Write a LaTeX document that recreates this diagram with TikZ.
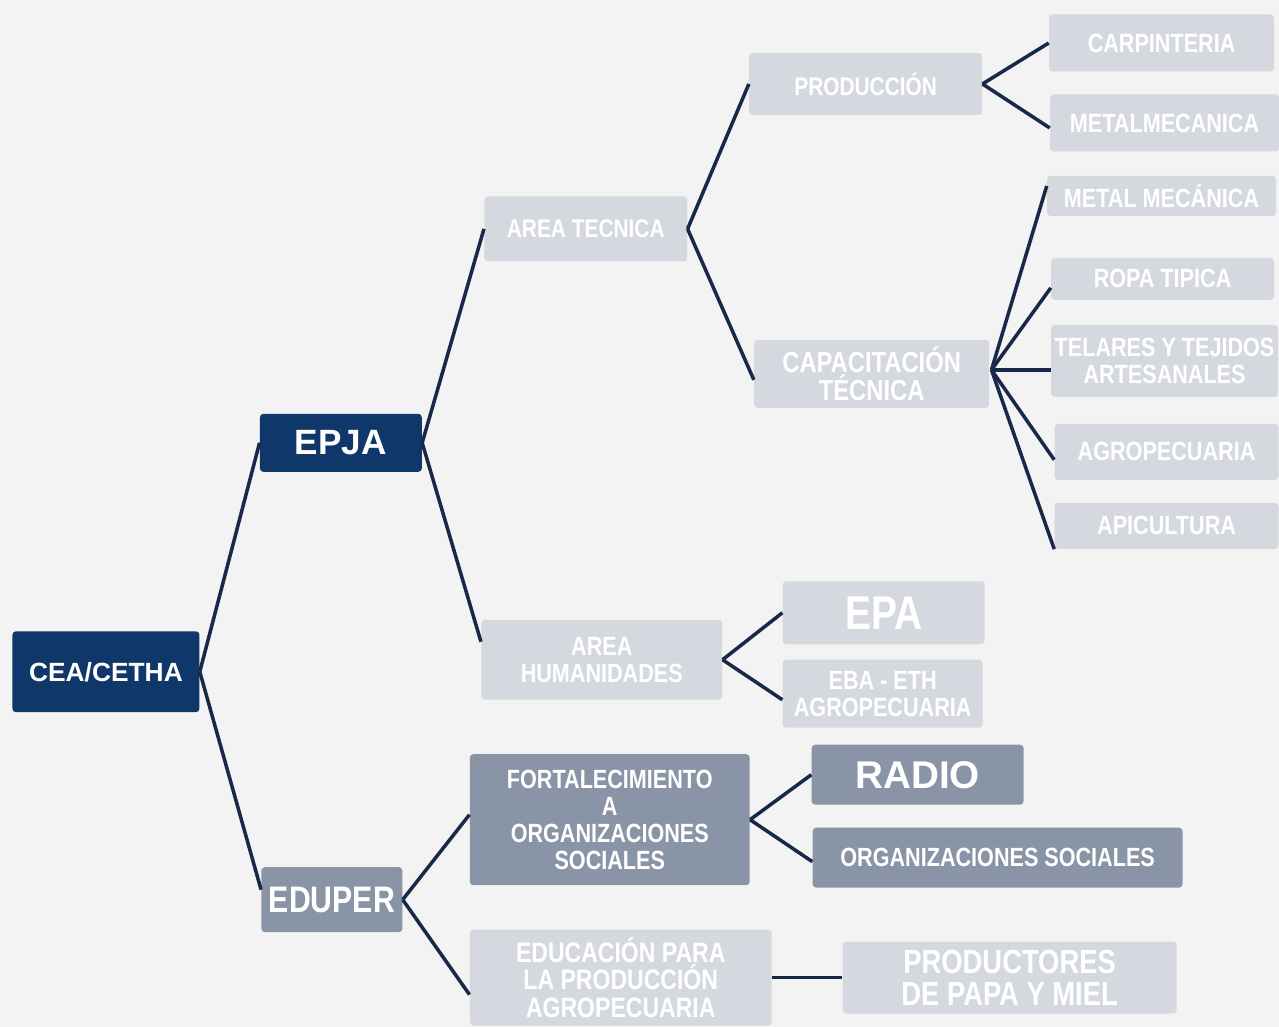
\documentclass[tikz,border=0pt]{standalone}
\usepackage{fontspec}
\setmainfont{Liberation Sans}
\newfontfamily\narrow[FakeStretch=0.82]{Liberation Sans}
\usepackage{tikz}
\usetikzlibrary{positioning}
\usetikzlibrary{calc}
\definecolor{navy}{RGB}{16,55,105}
\definecolor{slate}{RGB}{138,148,167}
\definecolor{pale}{RGB}{213,217,223}
\definecolor{page}{RGB}{243,243,243}
\definecolor{ink}{RGB}{24,40,72}

\begin{document}
\begin{tikzpicture}[x=0.02cm, y=-0.02cm,
                    darknode/.style={rectangle, rounded corners=2pt, fill=navy, text=white, inner sep=0pt, align=center},
                    greynode/.style={rectangle, rounded corners=2pt, fill=slate, text=white, inner sep=0pt, align=center},
                    palenode/.style={rectangle, rounded corners=2pt, fill=pale, text=white, inner sep=0pt, align=center},
                    sz/.style 2 args={minimum width=#1*0.02cm, minimum height=#2*0.02cm},
                    fs/.style 2 args={font=\narrow\bfseries\fontsize{#1}{#2}\selectfont},
                    wide/.style={font=\bfseries\fontsize{#1}{#1}\selectfont},
                    link/.style={draw=ink, line width=2pt, line join=round}
                   ]
\fill[page] (0,0) rectangle (1279,1027);
%Nodes
\node[darknode, sz={187}{81}, wide=15] (cea)  at (106,672)  {CEA/CETHA};
\node[darknode, sz={162}{58}, wide=20] (epja) at (341,443)  {EPJA};
\node[greynode, sz={141}{65}, fs={21}{21}] (eduper) at (332,900) {EDUPER};

\node[palenode, sz={203}{65}, fs={14.5}{16}] (tec) at (586,229) {AREA TECNICA};
\node[palenode, sz={241}{80}, fs={15}{15.4}] (hum) at (602,660) {AREA\\HUMANIDADES};

\node[palenode, sz={233}{62}, fs={14.5}{16}] (prod) at (866,84)  {PRODUCCIÓN};
\node[palenode, sz={235}{68}, fs={16.5}{16}] (cap)  at (872,374) {CAPACITACIÓN\\TÉCNICA};

\node[palenode, sz={225}{57}, fs={15}{16}] (carp)  at (1162,43)  {CARPINTERIA};
\node[palenode, sz={229}{57}, fs={15}{16}] (metal) at (1165,123) {METALMECANICA};
\node[palenode, sz={229}{40}, fs={15}{16}] (mm)    at (1162,196) {METAL MECÁNICA};
\node[palenode, sz={223}{42}, fs={15}{16}] (ropa)  at (1163,279) {ROPA TIPICA};
\node[palenode, sz={227}{72}, fs={15}{15.4}] (tel) at (1165,361) {TELARES Y TEJIDOS\\ARTESANALES};
\node[palenode, sz={224}{56}, fs={15}{16}] (agro)  at (1167,452) {AGROPECUARIA};
\node[palenode, sz={224}{46}, fs={15}{16}] (api)   at (1167,526) {APICULTURA};

\node[palenode, sz={202}{63}, fs={27}{27}] (epa) at (884,613) {EPA};
\node[palenode, sz={200}{68}, fs={15}{15.4}] (eba) at (883,694) {EBA - ETH\\AGROPECUARIA};

\node[greynode, sz={280}{131}, fs={15}{15.4}] (fort) at (610,820) {FORTALECIMIENTO\\A\\ORGANIZACIONES\\SOCIALES};
\node[greynode, sz={212}{60}, wide=22] (radio) at (918,775) {RADIO};
\node[greynode, sz={370}{60}, fs={15}{16}] (org) at (998,858) {ORGANIZACIONES SOCIALES};

\node[palenode, sz={302}{96}, fs={16}{15.6}] (educ) at (621,978) {EDUCACIÓN PARA\\LA PRODUCCIÓN\\AGROPECUARIA};
\node[palenode, sz={334}{72}, fs={19}{18.5}] (pyme) at (1010,978) {PRODUCTORES\\DE PAPA Y MIEL};
% %Lines
\draw[link] (cea.east) -- (epja.west);
\draw[link] (cea.east) -- ($(eduper.west)+(0,-10)$);

\draw[link] (epja.east) -- (tec.west);
\draw[link] (epja.east) -- ($(hum.west)+(0,-18)$);

\draw[link] (tec.east) -- (prod.west);
\draw[link] (tec.east) -- ($(cap.west)+(0,6)$);

\draw[link] (prod.east) -- (carp.west);
\draw[link] (prod.east) -- ($(metal.west)+(0,5)$);

\draw[link] ($(cap.east)+(2,-4)$) -- ($(mm.west)+(0,-10)$);
\draw[link] ($(cap.east)+(2,-4)$) -- ($(ropa.west)+(0,9)$);
\draw[link] ($(cap.east)+(2,-4)$) -- ($(tel.west)+(0,9)$);
\draw[link] ($(cap.east)+(2,-4)$) -- ($(agro.west)+(0,8)$);
\draw[link] ($(cap.east)+(2,-4)$) -- (api.south west);

\draw[link] (hum.east) -- (epa.west);
\draw[link] (hum.east) -- ($(eba.west)+(0,6)$);

\draw[link] (eduper.east) -- ($(fort.west)+(0,-5)$);
\draw[link] (eduper.east) -- ($(educ.west)+(0,17)$);

\draw[link] (fort.east) -- (radio.west);
\draw[link] (fort.east) -- ($(org.west)+(0,4)$);

\draw[link] (educ.east) -- (pyme.west);
\end{tikzpicture}
\end{document}
